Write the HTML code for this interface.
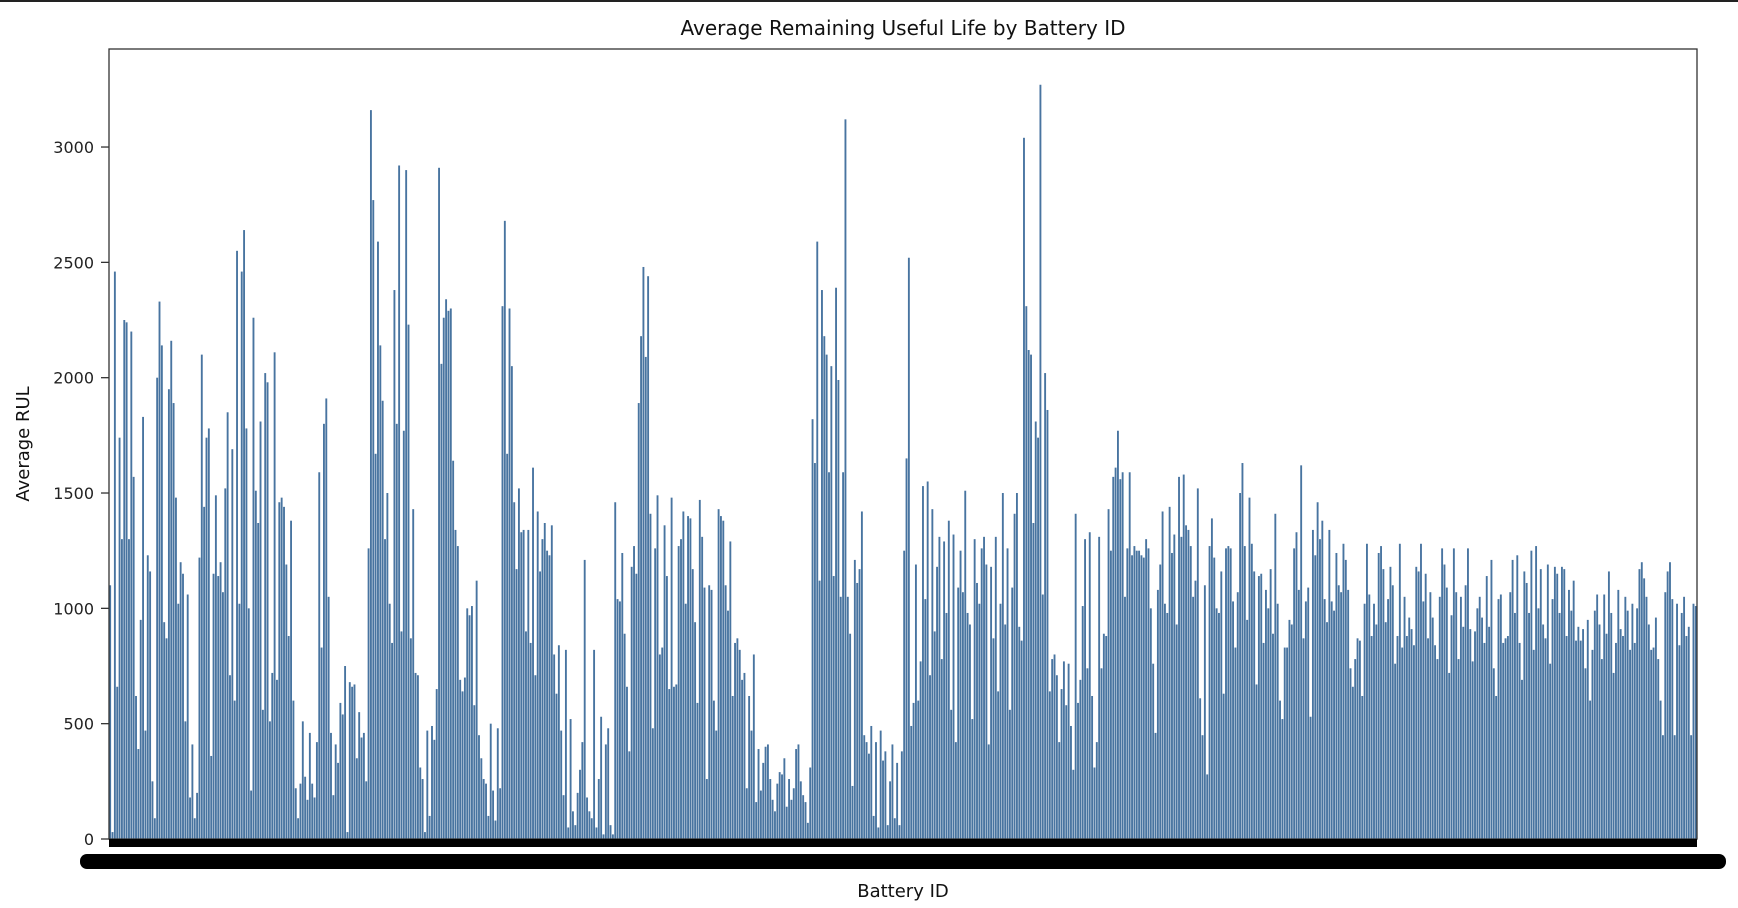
<!DOCTYPE html>
<html><head><meta charset="utf-8">
<style>
html,body{margin:0;padding:0;background:#fff;}
svg{display:block;font-family:"DejaVu Sans","Liberation Sans",sans-serif;}
</style></head>
<body>
<svg id="chart" width="1738" height="908" viewBox="0 0 1738 908" xmlns="http://www.w3.org/2000/svg">
  <rect x="0" y="0" width="1738" height="2" fill="#222"/>
  <text x="903" y="35" text-anchor="middle" font-size="20" fill="#111">Average Remaining Useful Life by Battery ID</text>
  <g id="bars"></g>
  <g id="yaxis"></g>
  <rect x="109" y="49" width="1588" height="790" fill="none" stroke="#333" stroke-width="1.3"/>
  <rect x="109" y="839" width="1588" height="8" fill="#000"/>
  <rect x="80" y="854" width="1646" height="15" rx="7" fill="#000"/>
  <text x="903" y="897" text-anchor="middle" font-size="18" fill="#111">Battery ID</text>
  <text x="0" y="0" transform="translate(29,444) rotate(-90)" text-anchor="middle" font-size="18" fill="#111">Average RUL</text>
</svg>
<script>
const yTicks = [0, 500, 1000, 1500, 2000, 2500, 3000];
const rulValues = [
1100,30,2460,660,1740,1300,2250,2240,1300,2200,
1570,620,390,950,1830,470,1230,1160,250,90,
2000,2330,2140,940,870,1950,2160,1890,1480,1020,
1200,1150,510,1060,180,410,90,200,1220,2100,
1440,1740,1780,360,1150,1490,1140,1200,1070,1520,
1850,710,1690,600,2550,1020,2460,2640,1780,1000,
210,2260,1510,1370,1810,560,2020,1980,510,720,
2110,690,1460,1480,1440,1190,880,1380,600,220,
90,240,510,270,170,460,240,
180,420,1590,830,1800,1910,1050,460,190,410,
330,590,540,750,30,680,660,670,350,550,
440,460,250,1260,3160,2770,1670,2590,2140,1900,
1300,1500,1020,850,2380,1800,2920,900,1770,2900,
2230,870,1430,720,710,310,260,30,470,100,
490,430,650,2910,2060,2260,2340,2290,2300,1640,
1340,1270,690,640,700,1000,970,1010,580,1120,
450,350,260,240,100,500,210,80,480,220,
2310,2680,1670,2300,2050,1460,1170,1520,1330,1340,
900,1340,850,1610,710,1420,1160,1300,1370,1250,
1230,1360,800,630,840,470,190,820,50,520,
120,60,200,300,420,1210,180,120,90,820,
50,260,530,20,410,480,60,20,1460,1040,
1030,1240,890,660,380,1180,1270,1150,1890,2180,
2480,2090,2440,1410,480,1260,1490,800,830,1360,
1140,650,1480,660,670,1270,1300,1420,1020,1400,
1390,1170,940,590,1470,1310,1090,260,1100,1080,
600,470,1430,1400,1380,1100,990,1290,620,850,
870,820,690,720,220,620,470,800,160,390,
210,330,400,410,260,170,120,240,290,280,350,140,260,
170,220,390,410,250,190,160,70,310,1820,
1630,2590,1120,2380,2180,2100,1590,2050,1140,2390,
1990,1050,1590,3120,1050,890,230,1210,1110,1170,
1420,450,420,370,490,100,420,50,470,340,380,60,250,410,90,
330,60,380,1250,1650,2520,490,590,1190,600,
770,1530,1040,1550,710,1430,900,1180,1310,780,
1290,980,1380,560,1320,420,1090,1250,1070,1510,
980,930,520,1300,1110,1020,1260,1310,1190,410,
1180,870,1310,640,1020,1500,930,1260,560,1090,1410,
1500,920,860,3040,2310,2120,2100,1370,1810,1740,
3270,1060,2020,1860,640,780,800,710,420,650,
770,580,760,490,300,1410,590,690,1010,1300,
740,1330,620,310,420,1310,740,890,880,1430,
1250,1570,1610,1770,1560,1590,1050,1260,1590,1230,
1270,1250,1250,1230,1220,1300,1260,1000,760,460,
1080,1190,1420,1020,980,1440,1240,1320,930,1570,
1310,1580,1360,1340,1270,1050,1120,1520,610,450,
1100,280,1270,1390,1220,1000,980,1160,630,1260,
1270,1260,1030,830,1070,1500,1630,1270,950,1480,
1280,1160,670,1140,1150,850,1080,1000,1170,890,
1410,1020,600,520,830,830,950,930,1260,1330,
1080,1620,870,1030,1090,530,1340,1230,1460,1300,
1380,1040,940,1340,1030,990,1240,1100,1070,1280,
1210,1080,740,660,780,870,860,620,1020,1280,
1060,880,1020,930,1240,1270,1170,940,1040,1180,
1100,760,880,1280,830,1050,880,960,910,840,
1180,1160,1280,1030,1150,870,1070,960,840,780,
1050,1260,1190,1090,720,970,1260,1070,780,1050,
920,1100,1260,910,770,900,1000,1050,960,850,
1140,920,1210,740,620,1040,1060,850,870,880,
1070,1210,980,1230,850,690,1160,1110,980,1250,
820,1270,1000,1170,930,870,1190,760,1040,1180,
1150,980,1180,1170,880,1080,990,1120,860,920,
860,910,740,950,600,820,990,1060,930,780,
1060,890,1160,980,720,850,1080,910,880,1050,
990,820,1020,850,1000,1170,1200,1130,1050,930,
820,830,960,780,600,450,1070,1160,1200,1040,
450,1020,840,980,1050,880,920,450,1020,1010
];
const svgNS = "http://www.w3.org/2000/svg";
const plotL = 109, plotR = 1697, plotTop = 49, zeroY = 839;
const yMax = 3425;
function yScale(v){ return zeroY - v / yMax * (zeroY - plotTop); }
function xScale(i){ return plotL + i * (plotR - plotL) / rulValues.length; }
const bw = (plotR - plotL) / rulValues.length;
const barsG = document.getElementById('bars');
rulValues.forEach((v, i) => {
  const r = document.createElementNS(svgNS, 'rect');
  
  
  r.setAttribute('x', (xScale(i) + bw * 0.1).toFixed(2));
  r.setAttribute('width', (bw * 0.8).toFixed(2));
  r.setAttribute('y', yScale(v).toFixed(2));
  r.setAttribute('height', (zeroY - yScale(v)).toFixed(2));
  r.setAttribute('fill', '#4874a0');
  barsG.appendChild(r);
});
const yG = document.getElementById('yaxis');
yTicks.forEach(t => {
  const y = yScale(t);
  const l = document.createElementNS(svgNS, 'line');
  
  
  l.setAttribute('x1', 101); l.setAttribute('x2', 109);
  l.setAttribute('y1', y); l.setAttribute('y2', y);
  l.setAttribute('stroke', '#333'); l.setAttribute('stroke-width', '1.3');
  yG.appendChild(l);
  const tx = document.createElementNS(svgNS, 'text');
  
  
  tx.setAttribute('x', 94); tx.setAttribute('y', y + 6);
  tx.setAttribute('text-anchor', 'end');
  tx.setAttribute('font-size', '16');
  tx.setAttribute('fill', '#222');
  tx.textContent = t;
  yG.appendChild(tx);
});
</script>
</body></html>
